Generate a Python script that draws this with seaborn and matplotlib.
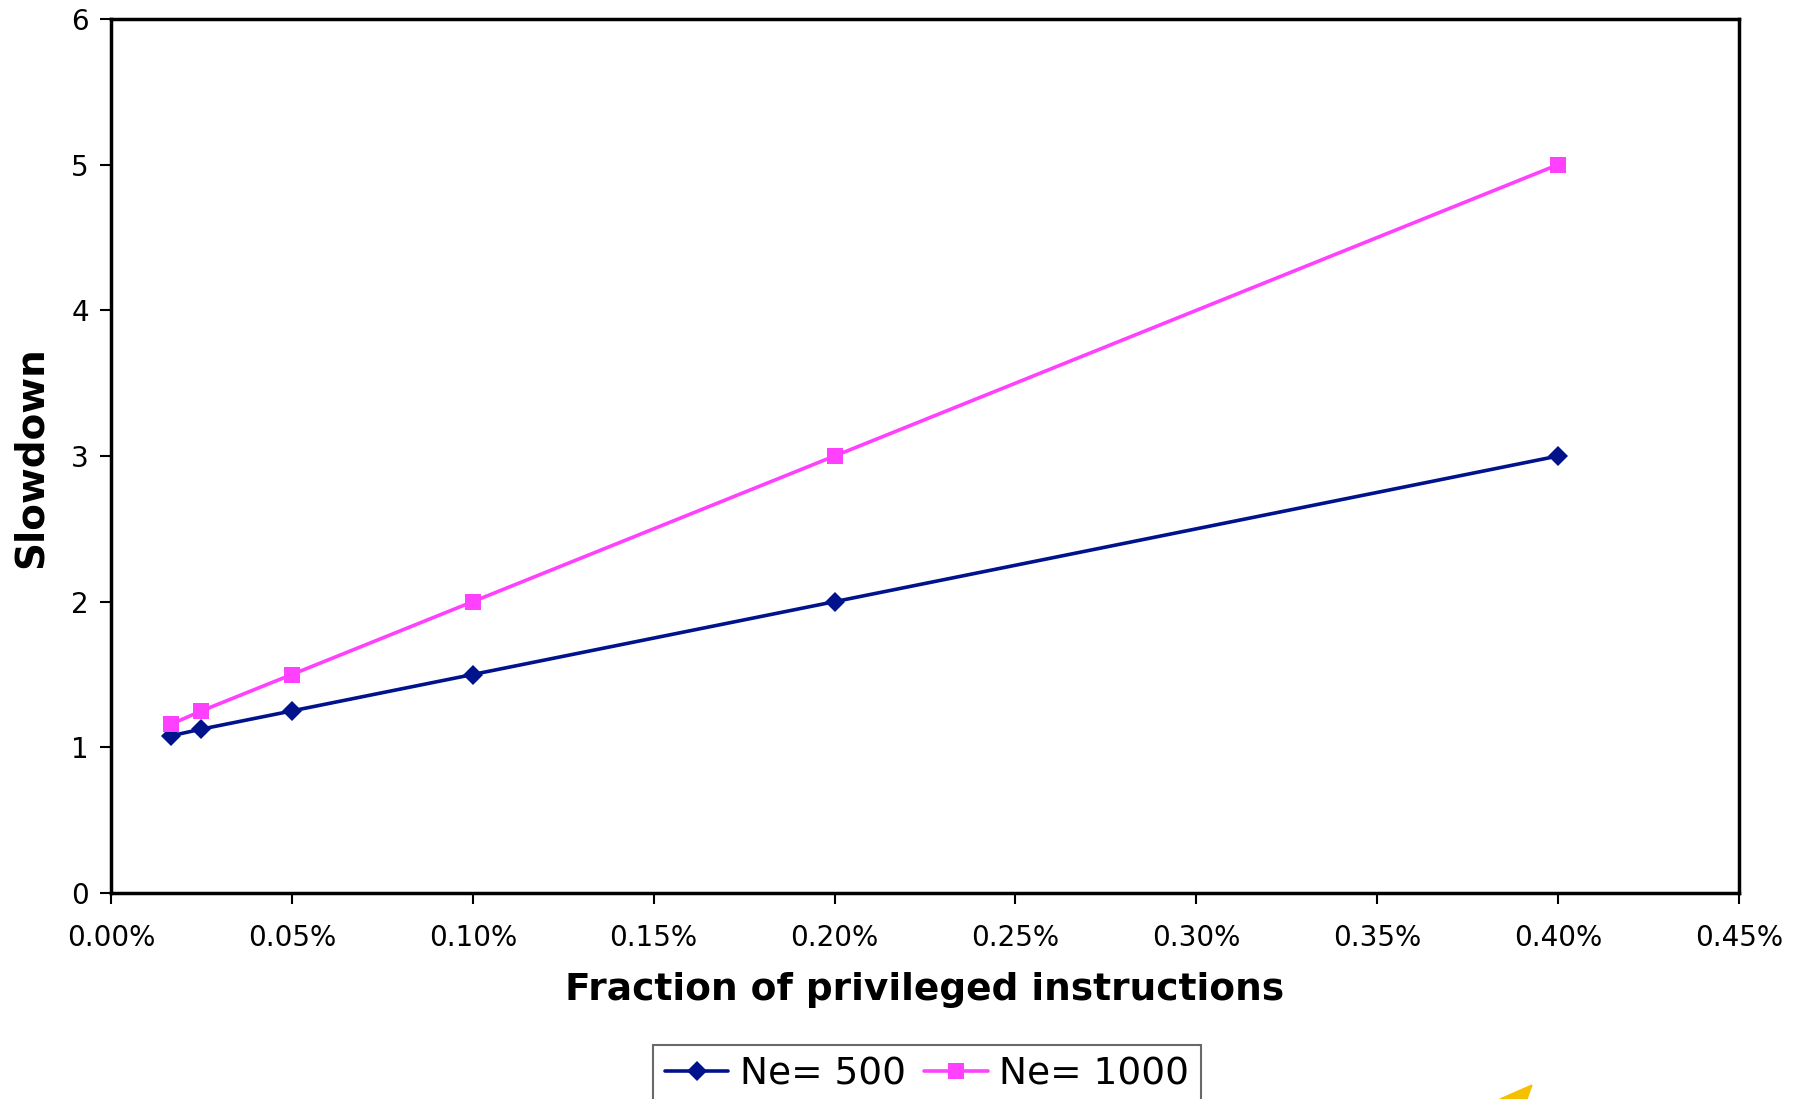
import pandas as pd
import matplotlib.pyplot as plt
import matplotlib.patches as mpatches
import seaborn as sns

sns.set_style('white')
plt.rcParams['font.family'] = ['DejaVu Sans']
plt.rcParams['text.color'] = 'black'
plt.rcParams['xtick.color'] = 'black'
plt.rcParams['ytick.color'] = 'black'

# fraction of privileged instructions (%)
fraction = [0.0167, 0.025, 0.05, 0.10, 0.20, 0.40]
slow_500 = [1.08, 1.125, 1.25, 1.5, 2.0, 3.0]
slow_1000 = [1.16, 1.25, 1.5, 2.0, 3.0, 5.0]
series_names = ['Ne= 500', 'Ne= 1000']
x_ticks = [0.0, 0.05, 0.10, 0.15, 0.20, 0.25, 0.30, 0.35, 0.40, 0.45]
y_ticks = [0, 1, 2, 3, 4, 5, 6]

df = pd.DataFrame({
    'fraction': fraction * 2,
    'slowdown': slow_500 + slow_1000,
    'series': [series_names[0]] * len(fraction) + [series_names[1]] * len(fraction),
})

fig = plt.figure(figsize=(18.04, 10.99), dpi=100)
ax = fig.add_axes([111 / 1804, 1 - 893 / 1099, (1739 - 111) / 1804, (893 - 19) / 1099])

colors = {'Ne= 500': '#00128C', 'Ne= 1000': '#FF40FF'}
markers = {'Ne= 500': 'D', 'Ne= 1000': 's'}
sizes = {'Ne= 500': 10.5, 'Ne= 1000': 12}
for name in series_names:
    sub = df[df['series'] == name]
    sns.lineplot(data=sub, x='fraction', y='slowdown', ax=ax, color=colors[name],
                 marker=markers[name], markersize=sizes[name], markeredgewidth=0,
                 linewidth=2.6, label=name, legend=False)

ax.set_xlim(0, 0.45)
ax.set_ylim(0, 6)
ax.set_xticks(x_ticks)
ax.set_xticklabels([f'{t:.2f}%' for t in x_ticks])
ax.set_yticks(y_ticks)
ax.tick_params(axis='both', labelsize=20, length=8, width=1.5, direction='out',
               bottom=True, left=True, color='black')
ax.tick_params(axis='x', pad=14)
ax.tick_params(axis='y', pad=8)
for s in ax.spines.values():
    s.set_color('black')
    s.set_linewidth(2.5)

ax.set_xlabel('')
ax.set_ylabel('')
fig.text(925 / 1804, 1 - 990 / 1099, 'Fraction of privileged instructions',
         ha='center', va='center', fontsize=27, fontweight='bold')
fig.text(31 / 1804, 1 - 457 / 1099, 'Slowdown', ha='center', va='center',
         rotation=90, fontsize=28, fontweight='bold')

handles, labels = ax.get_legend_handles_labels()
leg = fig.legend(handles, labels, loc='upper center', ncol=2,
                 bbox_to_anchor=(927 / 1804, 1 - 1045 / 1099), fontsize=27,
                 frameon=True, fancybox=False, handlelength=1.7, handletextpad=0.3,
                 columnspacing=0.5, borderpad=0.3, borderaxespad=0)
leg.get_frame().set_edgecolor('#444444')
leg.get_frame().set_linewidth(1.5)

# small yellow wedge at the bottom edge
tri = [(1532, 1085), (1500, 1099), (1527, 1099)]
fig.patches.append(mpatches.Polygon([(x / 1804, 1 - y / 1099) for x, y in tri],
                                    closed=True, color='#F5C000',
                                    transform=fig.transFigure, figure=fig))

fig.savefig('out.png', dpi=100)
